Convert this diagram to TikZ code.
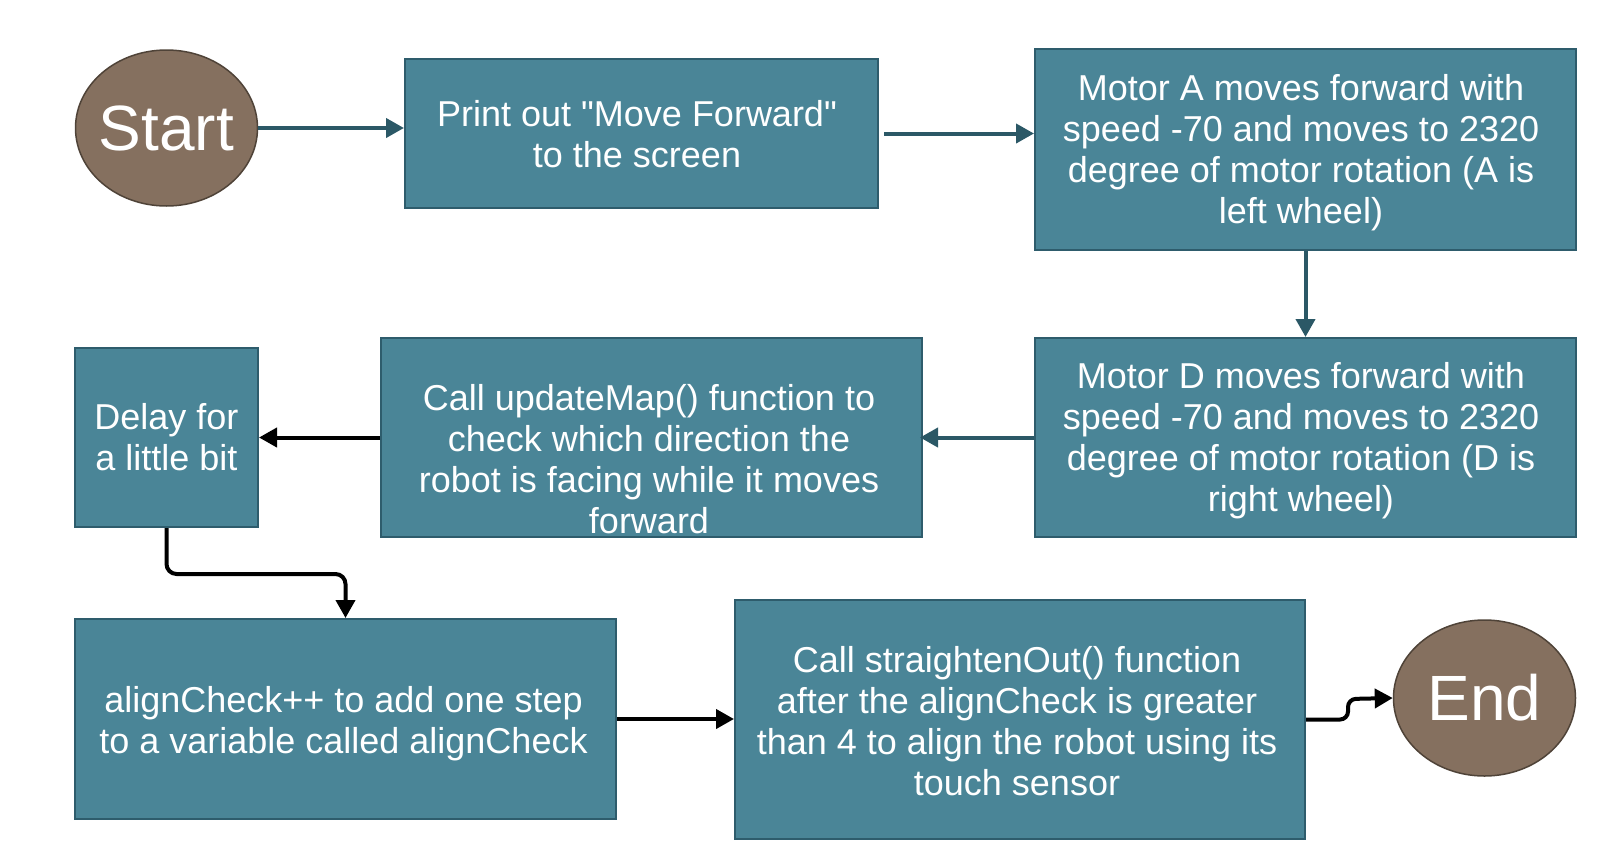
\documentclass[tikz,border=0pt]{standalone}
\usepackage{fontspec}
\newfontfamily\lib{Liberation Sans}
\usetikzlibrary{arrows.meta,shapes.geometric}
\definecolor{boxfill}{HTML}{4A8597}
\definecolor{boxline}{HTML}{2E5C6C}
\definecolor{tealarrow}{HTML}{2B5866}
\definecolor{ovalfill}{HTML}{85705F}
\definecolor{ovalline}{HTML}{4F4338}
\begin{document}
\begin{tikzpicture}[x=1pt,y=-1pt,
 box/.style={draw=boxline,fill=boxfill,line width=2pt,rectangle,inner sep=0pt,text=white,align=center,font=\lib\fontsize{36}{41}\selectfont},
 boxtext/.style={inner sep=0pt,text=white,align=center,font=\lib\fontsize{36}{41}\selectfont},
 oval/.style={ellipse,draw=ovalline,fill=ovalfill,line width=1.5pt,minimum width=182pt,minimum height=156pt,inner sep=0pt,text=white,font=\lib\fontsize{64}{76}\selectfont},
 tarrow/.style={draw=tealarrow,line width=4pt,-{Triangle[length=18pt,width=19pt]}},
 karrow/.style={draw=black,line width=4pt,-{Triangle[length=18pt,width=19pt]}},
]
\useasboundingbox (0,0) rectangle (1599,860);

\node[oval] (start) at (166.5,128) {\makebox[0pt]{Start}};
\node[box,minimum width=473pt,minimum height=149pt] (print) at (641.5,133.5) {};
\node[boxtext] (printtxt) at (637,134) {Print out "Move Forward"\\to the screen};
\node[box,minimum width=541pt,minimum height=201pt] (motorA) at (1305.5,149.5) {};
\node[boxtext] (motorAtxt) at (1301,152.5) {Motor A moves forward with\\speed -70 and moves to 2320\\degree of motor rotation (A is\\left wheel)};
\node[box,minimum width=541pt,minimum height=199pt] (motorD) at (1305.5,437.5) {};
\node[boxtext] (motorDtxt) at (1301,440.5) {Motor D moves forward with\\speed -70 and moves to 2320\\degree of motor rotation (D is\\right wheel)};
\node[box,minimum width=541pt,minimum height=199pt] (update) at (651.5,437.5) {};
\node[boxtext] (updatetxt) at (649,459) {Call updateMap() function to\\check which direction the\\robot is facing while it moves\\forward};
\node[box,minimum width=183pt,minimum height=179pt] (delay) at (166.5,437.5) {Delay for\\a little bit};
\node[box,minimum width=541pt,minimum height=200pt] (alignc) at (345.5,719) {};
\node[boxtext] (aligntxt) at (343.5,724) {alignCheck++ to add one step\\to a variable called alignCheck};
\node[box,minimum width=570pt,minimum height=239pt] (straight) at (1020,719.5) {};
\node[boxtext] (straighttxt) at (1017,721) {Call straightenOut() function\\after the alignCheck is greater\\than 4 to align the robot using its\\touch sensor};
\node[oval] (endo) at (1484.5,698) {\makebox[0pt]{End}};

\draw[tarrow] (start.east) -- (start.east -| print.west);
\draw[tarrow,shorten <=5pt] (print.east) -- (print.east -| motorA.west);
\draw[tarrow] (motorA.south) -- (motorD.north);
\draw[tarrow,shorten >=-3pt] (motorD.west) -- (update.east);
\draw[karrow] (update.west) -- (delay.east);
\draw[karrow,rounded corners=10pt] (delay.south) -- ++(0,46) -| (alignc.north);
\draw[karrow] (alignc.east) -- (alignc.east -| straight.west);
\draw[karrow,rounded corners=8pt] (straight.east) -- (1348,719.5) -- (1348,699) -- (endo.west);
\end{tikzpicture}
\end{document}
